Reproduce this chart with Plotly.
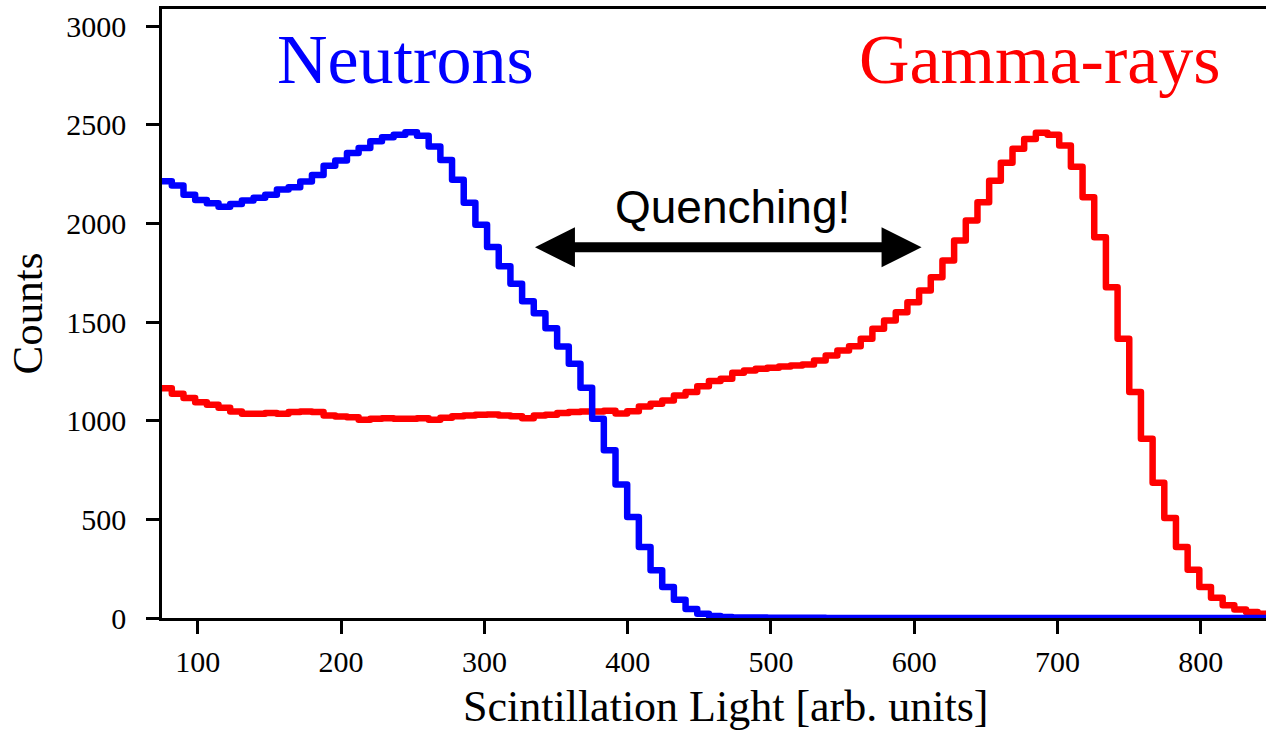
import numpy as np
import plotly.graph_objects as go

# ---- data -------------------------------------------------------------
bin_start = 73.7          # first bin edge [arb. units]
bin_width = 8.149         # histogram bin width [arb. units]

neutron_counts = [
    2214, 2192, 2146, 2119, 2102, 2084, 2099, 2116, 2130, 2146,
    2172, 2183, 2212, 2246, 2293, 2319, 2357, 2383, 2416, 2437,
    2449, 2462, 2445, 2390, 2322, 2221, 2105, 1994, 1880, 1783,
    1694, 1606, 1545, 1469, 1376, 1289, 1167, 1010, 850, 677,
    512, 360, 242, 157, 92, 45, 22, 10, 5, 3,
    2, 2, 1, 1, 1, 1, 1, 0, 0, 0,
    0, 0, 0, 0, 0, 0, 0, 0, 0, 0,
    0, 0, 0, 0, 0, 0, 0, 0, 0, 0,
    0, 0, 0, 0, 0, 0, 0, 0, 0, 0,
    0, 0, 0, 0, 0,
]

gamma_counts = [
    1165, 1137, 1115, 1094, 1081, 1066, 1047, 1035, 1035, 1039,
    1035, 1044, 1047, 1044, 1027, 1022, 1018, 1005, 1010, 1013,
    1010, 1010, 1013, 1005, 1015, 1023, 1027, 1030, 1032, 1027,
    1023, 1013, 1027, 1030, 1039, 1044, 1047, 1047, 1050, 1037,
    1048, 1072, 1086, 1103, 1128, 1145, 1175, 1201, 1213, 1243,
    1255, 1263, 1268, 1275, 1280, 1285, 1305, 1331, 1356, 1378,
    1415, 1466, 1508, 1550, 1601, 1660, 1727, 1812, 1913, 2015,
    2107, 2217, 2308, 2378, 2428, 2460, 2450, 2395, 2288, 2133,
    1930, 1677, 1415, 1145, 909, 686, 507, 360, 245, 157,
    103, 64, 43, 30, 22,
]

x_ticks = [100, 200, 300, 400, 500, 600, 700, 800]
y_ticks = [0, 500, 1000, 1500, 2000, 2500, 3000]

# ---- figure -----------------------------------------------------------
n_bins = len(neutron_counts)
edges = bin_start + bin_width * np.arange(n_bins + 1)

def step_y(counts):
    return list(counts) + [counts[-1]]

fig = go.Figure()
fig.add_trace(go.Scatter(
    x=edges, y=step_y(gamma_counts), mode="lines",
    line=dict(color="#ff0000", width=6.5, shape="hv"), showlegend=False,
))
fig.add_trace(go.Scatter(
    x=edges, y=step_y(neutron_counts), mode="lines",
    line=dict(color="#0000ff", width=6.5, shape="hv"), showlegend=False,
))

serif = "Liberation Serif"
tickfont = dict(family=serif, size=30, color="black")

fig.update_xaxes(
    range=[75, 845.5], tickvals=x_ticks, ticktext=[str(v) for v in x_ticks],
    showgrid=False, zeroline=False, showline=True, linecolor="black",
    linewidth=2.5, mirror=True, ticks="outside", ticklen=13, tickwidth=2.5,
    tickcolor="black", tickfont=tickfont, layer="below traces",
    ticklabelstandoff=2,
)
fig.update_yaxes(
    range=[0, 3087], tickvals=y_ticks, ticktext=[str(v) for v in y_ticks],
    showgrid=False, zeroline=False, showline=True, linecolor="black",
    linewidth=2.5, ticks="outside", ticklen=13, tickwidth=2.5,
    tickcolor="black", tickfont=tickfont, layer="below traces",
    ticklabelstandoff=14,
)

# arrow (double headed)
arrow_y = 1879
x_left, x_right = 335.3, 605.1
head_len, head_half = 27.9, 101.3
fig.add_shape(type="line", xref="x", yref="y",
              x0=x_left + head_len * 0.5, x1=x_right - head_len * 0.5,
              y0=arrow_y, y1=arrow_y, line=dict(color="black", width=10))
fig.add_shape(type="path", xref="x", yref="y", fillcolor="black",
              line=dict(color="black", width=0),
              path=f"M {x_left},{arrow_y} L {x_left + head_len},{arrow_y + head_half} "
                   f"L {x_left + head_len},{arrow_y - head_half} Z")
fig.add_shape(type="path", xref="x", yref="y", fillcolor="black",
              line=dict(color="black", width=0),
              path=f"M {x_right},{arrow_y} L {x_right - head_len},{arrow_y + head_half} "
                   f"L {x_right - head_len},{arrow_y - head_half} Z")

fig.add_annotation(x=473, y=2085, xref="x", yref="y", text="Quenching!",
                   showarrow=False, xanchor="center", yanchor="middle",
                   font=dict(family="Liberation Sans", size=46, color="black"))
fig.add_annotation(x=245, y=2830, xref="x", yref="y", text="Neutrons",
                   showarrow=False, xanchor="center", yanchor="middle",
                   font=dict(family=serif, size=70, color="#0000ff"))
fig.add_annotation(x=688, y=2830, xref="x", yref="y", text="Gamma-rays",
                   showarrow=False, xanchor="center", yanchor="middle",
                   font=dict(family=serif, size=70, color="#ff0000"))

# axis titles
fig.add_annotation(x=-0.1214, y=0.5, xref="paper", yref="paper", text="Counts",
                   showarrow=False, textangle=-90, xanchor="center", yanchor="middle",
                   font=dict(family=serif, size=43, color="black"))
fig.add_annotation(x=0.511, y=-0.146, xref="paper", yref="paper",
                   text="Scintillation Light [arb. units]",
                   showarrow=False, xanchor="center", yanchor="middle",
                   font=dict(family=serif, size=44, color="black"))

fig.update_layout(
    width=1266, height=731,
    margin=dict(l=162, r=0, t=9, b=113),
    plot_bgcolor="white", paper_bgcolor="white",
)

post = ("document.querySelectorAll('.scatterlayer path.js-line')"
        ".forEach(function(p){p.style.strokeLinejoin='round';});")
fig.write_html("out.html", post_script=post)
